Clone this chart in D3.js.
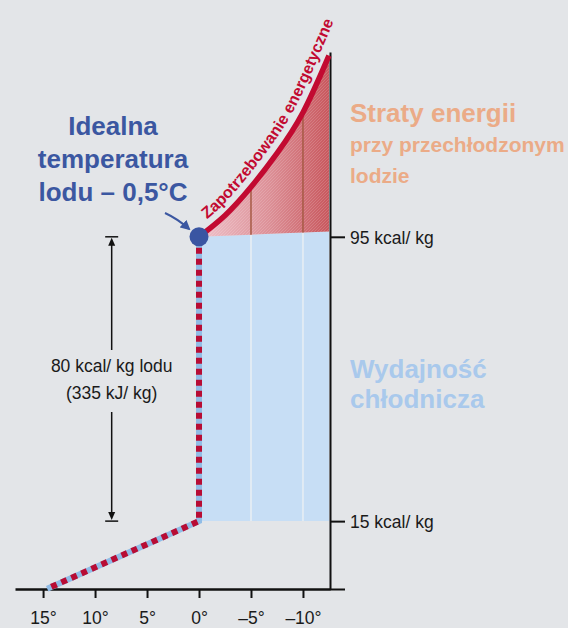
<!DOCTYPE html>
<html lang="pl">
<head>
<meta charset="utf-8">
<title>Wydajność chłodnicza lodu</title>
<script src="https://d3js.org/d3.v7.min.js"></script>
<style>
	body {margin:0; background:#e3e5e8;}
	svg {display:block; font-family:"Liberation Sans", Arial, sans-serif;}
</style>
</head>
<body>
<div id="chart"></div>
<script>
	// temperatura (°C) na osi poziomej
	const tempTicks = [15, 10, 5, 0, -5, -10];
	const tempLabels = ["15°", "10°", "5°", "0°", "–5°", "–10°"];
	// poziomy energii (kcal/kg) na osi pionowej
	const levelValues = [95, 15];
	const levelLabels = ["95 kcal/ kg", "15 kcal/ kg"];
	// krzywa zapotrzebowania energetycznego
	const demandTemp = [0, -2.5, -5, -7.5, -10, -12.5];
	const demandKcal = [95, 101, 109, 118.5, 130, 146];
	// górna krawędź wydajności chłodniczej
	const capacityTemp = [0, -12.5];
	const capacityKcal = [95, 96.5];
	const capacityBottom = 15;
	// schładzanie wody i topnienie lodu (od punktu idealnego w dół)
	const waterTemp = [0, 0, 14.6];
	const waterKcal = [95, 15, -4];
	const gridTemps = [-5, -10];
	const idealTemp = 0, idealKcal = 95;
	const latentTemp = 8.4;

	const width = 568, height = 628;
	const x = d3.scaleLinear().domain([17.7, -12.6]).range([15, 330]);
	const y = d3.scaleLinear().domain([-4.1, 147]).range([589, 52]);
	const capAt = d3.scaleLinear().domain(capacityTemp).range(capacityKcal);

	const svg = d3.select("#chart").append("svg")
		.attr("width", width)
		.attr("height", height);

	svg.append("rect").attr("width", width).attr("height", height).attr("fill", "#e3e5e8");

	const defs = svg.append("defs");
	const grad = defs.append("linearGradient")
		.attr("id", "lossGrad")
		.attr("gradientUnits", "userSpaceOnUse")
		.attr("x1", x(0)).attr("x2", x(-12.5)).attr("y1", 0).attr("y2", 0);
	grad.append("stop").attr("offset", "0%").attr("stop-color", "#efc3cb");
	grad.append("stop").attr("offset", "55%").attr("stop-color", "#dc8f96");
	grad.append("stop").attr("offset", "100%").attr("stop-color", "#c8575d");
	const hatch = defs.append("pattern")
		.attr("id", "hatch")
		.attr("patternUnits", "userSpaceOnUse")
		.attr("width", 3).attr("height", 3);
	hatch.append("path").attr("d", "M0,3L3,0").attr("stroke", "#fff").attr("stroke-opacity", 0.15).attr("stroke-width", 1);

	// wydajność chłodnicza (niebieskie pole)
	const capArea = d3.area()
		.x(function (d) { return x(d); })
		.y0(y(capacityBottom))
		.y1(function (d, i) { return y(capacityKcal[i]); });
	svg.append("path")
		.attr("d", capArea(capacityTemp))
		.attr("fill", "#c7def5");

	svg.selectAll(".gridBlue")
		.data(gridTemps)
		.enter()
		.append("line")
		.attr("x1", function (d) { return x(d); })
		.attr("x2", function (d) { return x(d); })
		.attr("y1", y(capacityBottom))
		.attr("y2", function (d) { return y(capAt(d)); })
		.attr("stroke", "#e1ebf4")
		.attr("stroke-width", 2);

	// straty energii (czerwone pole)
	const lossArea = d3.area()
		.curve(d3.curveNatural)
		.x(function (d) { return x(d); })
		.y0(function (d) { return y(capAt(d)); })
		.y1(function (d, i) { return y(demandKcal[i]); });
	svg.append("path").attr("d", lossArea(demandTemp)).attr("fill", "url(#lossGrad)");
	svg.append("path").attr("d", lossArea(demandTemp)).attr("fill", "url(#hatch)");

	svg.selectAll(".gridRed")
		.data(gridTemps)
		.enter()
		.append("line")
		.attr("x1", function (d) { return x(d); })
		.attr("x2", function (d) { return x(d); })
		.attr("y1", function (d) { return y(capAt(d)); })
		.attr("y2", function (d) { return y(demandKcal[demandTemp.indexOf(d)]); })
		.attr("stroke", "#a65a45")
		.attr("stroke-width", 1.5);

	// osie
	const xAxis = svg.append("g")
		.attr("transform", "translate(0," + y(-4.1) + ")")
		.call(d3.axisBottom(x)
			.tickValues(tempTicks)
			.tickFormat(function (d, i) { return tempLabels[i]; })
			.tickSize(9)
			.tickSizeOuter(0));
	xAxis.select(".domain").attr("stroke", "#111").attr("stroke-width", 2.5);
	xAxis.selectAll(".tick line").attr("stroke", "#111").attr("stroke-width", 2);
	xAxis.selectAll(".tick text")
		.attr("y", 35).attr("dy", 0)
		.attr("fill", "#1a1a1a")
		.style("font-size", "17.5px")
		.style("font-family", "'Liberation Sans', Arial, sans-serif");

	const yAxis = svg.append("g")
		.attr("transform", "translate(" + x(-12.6) + ",0)")
		.call(d3.axisRight(y)
			.tickValues(levelValues.concat([-4.1]))
			.tickFormat(function (d, i) { return levelLabels[i] || ""; })
			.tickSize(15)
			.tickPadding(5)
			.tickSizeOuter(0));
	yAxis.select(".domain").attr("stroke", "#111").attr("stroke-width", 2);
	yAxis.selectAll(".tick line").attr("stroke", "#111").attr("stroke-width", 2);
	yAxis.selectAll(".tick text")
		.attr("dy", "0.36em")
		.attr("fill", "#1a1a1a")
		.style("font-size", "17.5px")
		.style("font-family", "'Liberation Sans', Arial, sans-serif");

	// krzywa zapotrzebowania
	const demandLine = d3.line()
		.curve(d3.curveNatural)
		.x(function (d) { return x(d); })
		.y(function (d, i) { return y(demandKcal[i]); });
	const curve = svg.append("path")
		.attr("d", demandLine(demandTemp))
		.attr("fill", "none")
		.attr("stroke", "#c20a31")
		.attr("stroke-width", 5.5);

	// ścieżka dla napisu, odsunięta od krzywej
	const node = curve.node();
	const L = node.getTotalLength();
	const pts = d3.range(0, L, 3).concat([L]).map(function (s) {
		const a = node.getPointAtLength(Math.max(0, Math.min(L - 2, s - 1)));
		const b = node.getPointAtLength(Math.max(2, Math.min(L, s + 1)));
		const p = node.getPointAtLength(s);
		const dx = b.x - a.x, dy = b.y - a.y, n = Math.hypot(dx, dy) || 1;
		return [p.x + dy / n * 9, p.y - dx / n * 9, dx / n, dy / n];
	});
	const last = pts[pts.length - 1];
	pts.push([last[0] + last[2] * 70, last[1] + last[3] * 70]);
	defs.append("path").attr("id", "labelPath").attr("d", d3.line()(pts.map(function (p) { return [p[0], p[1]]; })));
	svg.append("text")
		.attr("fill", "#c20a31")
		.style("font-size", "16px")
		.style("font-weight", "bold")
		.append("textPath")
		.attr("href", "#labelPath")
		.attr("startOffset", 17)
		.text("Zapotrzebowanie energetyczne");

	// linia przerywana: woda i topnienie
	const waterLine = d3.line()
		.x(function (d) { return x(d); })
		.y(function (d, i) { return y(waterKcal[i]); });
	svg.append("path")
		.attr("d", waterLine(waterTemp))
		.attr("fill", "none")
		.attr("stroke", "#90bce6")
		.attr("stroke-width", 6);
	svg.append("path")
		.attr("d", waterLine(waterTemp))
		.attr("fill", "none")
		.attr("stroke", "#b80c34")
		.attr("stroke-width", 6)
		.attr("stroke-dasharray", "6 5");

	// punkt idealnej temperatury
	svg.append("circle")
		.attr("cx", x(idealTemp))
		.attr("cy", y(idealKcal))
		.attr("r", 9.5)
		.attr("fill", "#3a55a2");

	// strzałka ciepła topnienia
	const ax = x(latentTemp);
	const yTop = y(levelValues[0]), yBottom = y(levelValues[1]);
	const arrow = svg.append("g").attr("stroke", "#111").attr("fill", "#111");
	arrow.append("line").attr("x1", ax).attr("x2", ax).attr("y1", yTop + 4).attr("y2", 350).attr("stroke-width", 1.5);
	arrow.append("line").attr("x1", ax).attr("x2", ax).attr("y1", 412).attr("y2", yBottom - 4).attr("stroke-width", 1.5);
	arrow.append("line").attr("x1", ax - 6.5).attr("x2", ax + 6.5).attr("y1", yTop).attr("y2", yTop).attr("stroke-width", 1.5);
	arrow.append("line").attr("x1", ax - 6.5).attr("x2", ax + 6.5).attr("y1", yBottom).attr("y2", yBottom).attr("stroke-width", 1.5);
	arrow.append("path").attr("stroke", "none")
		.attr("d", "M" + ax + "," + (yTop + 1) + "l-3.5,8h7z");
	arrow.append("path").attr("stroke", "none")
		.attr("d", "M" + ax + "," + (yBottom - 1) + "l-3.5,-8h7z");

	svg.append("text")
		.attr("x", ax).attr("y", 372)
		.attr("text-anchor", "middle")
		.attr("fill", "#1a1a1a")
		.style("font-size", "17.5px")
		.text("80 kcal/ kg lodu");
	svg.append("text")
		.attr("x", ax).attr("y", 399)
		.attr("text-anchor", "middle")
		.attr("fill", "#1a1a1a")
		.style("font-size", "17.5px")
		.text("(335 kJ/ kg)");

	// tytuł po lewej
	const titleLines = ["Idealna", "temperatura", "lodu – 0,5°C"];
	svg.selectAll(".title")
		.data(titleLines)
		.enter()
		.append("text")
		.attr("x", 113)
		.attr("y", function (d, i) { return 135 + i * 33; })
		.attr("text-anchor", "middle")
		.attr("fill", "#3b57a1")
		.style("font-size", "26px")
		.style("font-weight", "bold")
		.text(function (d) { return d; });

	defs.append("marker")
		.attr("id", "blueHead")
		.attr("viewBox", "0 0 10 10")
		.attr("refX", 8).attr("refY", 5)
		.attr("markerWidth", 5).attr("markerHeight", 5)
		.attr("orient", "auto")
		.append("path").attr("d", "M0,0L10,5L0,10z").attr("fill", "#3b57a1");
	svg.append("path")
		.attr("d", "M165,213Q178,219 189,229")
		.attr("fill", "none")
		.attr("stroke", "#3b57a1")
		.attr("stroke-width", 2)
		.attr("marker-end", "url(#blueHead)");

	// opisy po prawej
	const lossLines = [["Straty energii", 26, 122], ["przy przechłodzonym", 21, 152], ["lodzie", 21, 183]];
	svg.selectAll(".loss")
		.data(lossLines)
		.enter()
		.append("text")
		.attr("x", 350)
		.attr("y", function (d) { return d[2]; })
		.attr("fill", "#ebab87")
		.style("font-size", function (d) { return d[1] + "px"; })
		.style("font-weight", "bold")
		.text(function (d) { return d[0]; });

	const capLines = ["Wydajność", "chłodnicza"];
	svg.selectAll(".cap")
		.data(capLines)
		.enter()
		.append("text")
		.attr("x", 350)
		.attr("y", function (d, i) { return 378 + i * 30; })
		.attr("fill", "#a9c9ec")
		.style("font-size", "26px")
		.style("font-weight", "bold")
		.text(function (d) { return d; });
</script>
</body>
</html>
